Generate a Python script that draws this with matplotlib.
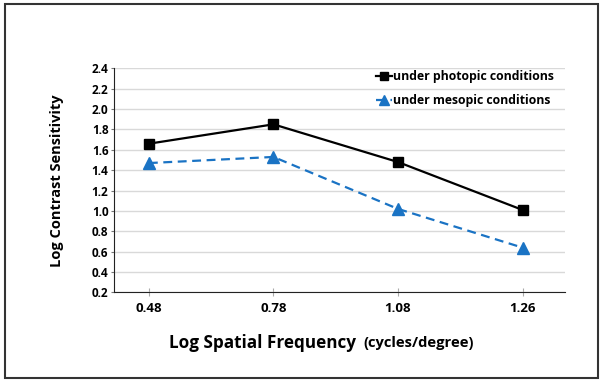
import matplotlib.pyplot as plt
from matplotlib.patches import Rectangle

freq_labels = ['0.48', '0.78', '1.08', '1.26']
photopic = [1.66, 1.85, 1.48, 1.01]
mesopic = [1.47, 1.53, 1.02, 0.64]
y_ticks = [0.2, 0.4, 0.6, 0.8, 1.0, 1.2, 1.4, 1.6, 1.8, 2.0, 2.2, 2.4]

plt.rcParams['font.family'] = ['Open Sans', 'DejaVu Sans']

fig = plt.figure(figsize=(6.01, 3.80), dpi=100)
ax = fig.add_axes([0.1897, 0.2303, 0.7503, 0.59])

x = list(range(len(freq_labels)))
ax.plot(x, photopic, color='black', lw=1.6, marker='s', ms=7,
        label='under photopic conditions')
ax.plot(x, mesopic, color='#1a73c4', lw=1.6, ls=(0, (4, 2.5)), marker='^', ms=9,
        label='under mesopic conditions')

ax.set_xlim(-0.28, 3.34)
ax.set_ylim(0.2, 2.4)
ax.set_yticks(y_ticks)
ax.set_yticklabels(['%.1f' % v for v in y_ticks], fontsize=8.5, fontweight='bold')
ax.set_xticks(x)
ax.set_xticklabels(freq_labels, fontsize=9.5, fontweight='bold')
ax.tick_params(axis='y', length=2, pad=2, color='#777777')
ax.tick_params(axis='x', direction='inout', length=6, pad=4, color='#aaaaaa')
ax.grid(axis='y', color='#d9d9d9', lw=1)
ax.set_axisbelow(True)
for s in ['top', 'right']:
    ax.spines[s].set_visible(False)
ax.spines['left'].set_color('#222222')
ax.spines['bottom'].set_color('#222222')

ax.set_ylabel('Log Contrast Sensitivity', fontsize=10.5, fontweight='bold', labelpad=20)

leg = ax.legend(loc='upper right', frameon=False, handlelength=1.3,
                handletextpad=0.1, labelspacing=0.9, bbox_to_anchor=(1.0, 1.04),
                markerscale=0.75, prop={'weight': 'bold', 'size': 8.8})

fig.text(0.592, 0.097, 'Log Spatial Frequency', ha='right', va='center',
         fontsize=12.3, fontweight='bold')
fig.text(0.605, 0.097, '(cycles/degree)', ha='left', va='center',
         fontsize=10.6, fontweight='bold')

fig.patches.append(Rectangle((0.009, 0.006), 0.986, 0.984, transform=fig.transFigure,
                             fill=False, edgecolor='#333333', lw=1.5))

plt.savefig('out.png', dpi=100)
